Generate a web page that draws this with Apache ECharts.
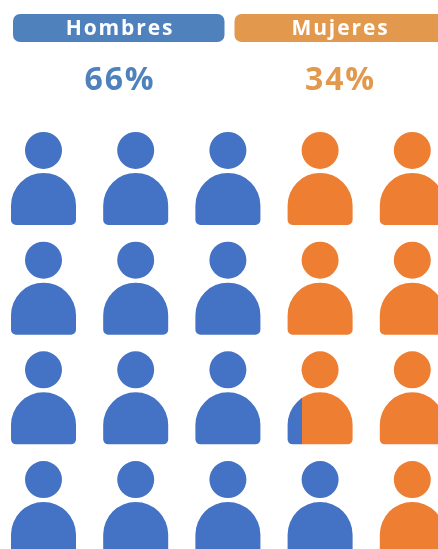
<!DOCTYPE html>
<html>
<head>
<meta charset="utf-8">
<title>Hombres y Mujeres</title>
<style>
  html, body { margin: 0; padding: 0; background: #fff; }
  #chart { width: 438px; height: 549px; }
</style>
<script src="https://cdn.jsdelivr.net/npm/echarts@6/dist/echarts.min.js"></script>
</head>
<body>
<div id="chart"></div>
<script>
var groups = ['Hombres', 'Mujeres'];
var percents = ['66%', '34%'];

// share of each icon that is blue, one list per row of icons
var row1 = [1, 1, 1, 0, 0];
var row2 = [1, 1, 1, 0, 0];
var row3 = [1, 1, 1, 0.215, 0];
var row4 = [1, 1, 1, 1, 0];
var rows = [row1, row2, row3, row4];

var BLUE = '#4472c4';
var ORANGE = '#ee7e32';
var HEAD_BLUE = '#4f81bd';
var HEAD_ORANGE = '#e2984d';

var person = 'path://M32.5 0A18.5 18.5 0 1 1 32.5 37A18.5 18.5 0 1 1 32.5 0Z' +
  'M0 88V73.5A32.5 32.5 0 0 1 65 73.5V88A5 5 0 0 1 60 93H5A5 5 0 0 1 0 88Z';

function iconColor(share) {
  if (share === 1) return BLUE;
  if (share === 0) return ORANGE;
  return new echarts.graphic.LinearGradient(0, 0, 1, 0, [
    { offset: 0, color: BLUE },
    { offset: share, color: BLUE },
    { offset: share, color: ORANGE },
    { offset: 1, color: ORANGE }
  ]);
}

var points = [];
rows.forEach(function (row, y) {
  row.forEach(function (share, x) {
    points.push({ value: [x, y], itemStyle: { color: iconColor(share), opacity: 1 } });
  });
});

var dom = document.getElementById('chart');
var chart = echarts.init(dom, null, { renderer: 'canvas' });

var pillX = [13, 234.5];
var pillW = [211.5, 215];
var labelX = [120, 340.5];
var pillColors = [HEAD_BLUE, HEAD_ORANGE];
var headings = [];
groups.forEach(function (name, i) {
  headings.push({
    type: 'rect',
    shape: { x: pillX[i], y: 14, width: pillW[i], height: 28, r: 7 },
    style: { fill: pillColors[i] }
  });
  headings.push({
    type: 'text',
    x: labelX[i],
    y: 29.5,
    style: {
      text: name,
      fill: '#fff',
      font: 'bold 21px "Open Sans"',
      textAlign: 'center',
      textVerticalAlign: 'middle'
    }
  });
  headings.push({
    type: 'text',
    x: labelX[i],
    y: 81,
    style: {
      text: percents[i],
      fill: pillColors[i],
      font: 'bold 32px "Open Sans"',
      textAlign: 'center',
      textVerticalAlign: 'middle'
    }
  });
});

chart.setOption({
  animation: false,
  tooltip: { show: false },
  grid: { left: 43.5, width: 368.8, top: 178.4, height: 329.2 },
  xAxis: { type: 'value', min: 0, max: 4, show: false },
  yAxis: { type: 'value', min: 0, max: 3, inverse: true, show: false },
  graphic: headings,
  series: [
    {
      type: 'scatter',
      symbol: person,
      symbolSize: [65, 93],
      symbolKeepAspect: false,
      clip: false,
      silent: true,
      data: points
    }
  ]
});

// the headings are letter spaced, the canvas only exists after the first paint
var zr = chart.getZr();
zr.refreshImmediately();
dom.querySelector('canvas').getContext('2d').letterSpacing = '1.9px';
zr.painter.refresh(true);
</script>
</body>
</html>
